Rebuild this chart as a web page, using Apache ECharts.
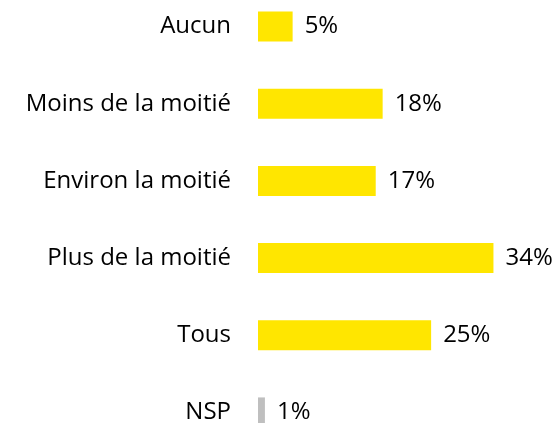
<!DOCTYPE html>
<html>
<head>
<meta charset="utf-8">
<script src="https://cdn.jsdelivr.net/npm/echarts@6/dist/echarts.min.js"></script>
<style>
  html, body { margin: 0; padding: 0; background: #fff; overflow: hidden; }
  #chart { width: 559px; height: 463px; position: absolute; left: 0; top: -12px; }
</style>
</head>
<body>
<div id="chart"></div>
<script>
// categories top to bottom
const categories = ['Aucun', 'Moins de la moitié', 'Environ la moitié', 'Plus de la moitié', 'Tous', 'NSP']
const values = [5, 18, 17, 34, 25, 1]
const barColors = ['#FFE600', '#FFE600', '#FFE600', '#FFE600', '#FFE600', '#BFBFBF']

const chart = echarts.init(document.getElementById('chart'))

const option = {
  animation: false,
  grid: {
    left: 258,
    right: 24,
    top: 0,
    bottom: 0
  },
  xAxis: {
    type: 'value',
    min: 0,
    max: 40,
    show: false
  },
  yAxis: {
    type: 'category',
    data: categories,
    inverse: true,
    axisLine: { show: false },
    axisTick: { show: false },
    axisLabel: {
      margin: 27,
      color: '#000',
      fontFamily: 'Open Sans',
      fontSize: 24,
      padding: [4, 0, 0, 0]
    }
  },
  series: [
    {
      type: 'bar',
      barWidth: 30,
      data: values.map((v, i) => ({
        value: v,
        itemStyle: { color: barColors[i] }
      })),
      label: {
        show: true,
        position: 'right',
        distance: 12,
        color: '#000',
        fontFamily: 'Open Sans',
        fontSize: 24,
        padding: [4, 0, 0, 0],
        formatter: '{c}%'
      }
    }
  ]
}

chart.setOption(option)
</script>
</body>
</html>
